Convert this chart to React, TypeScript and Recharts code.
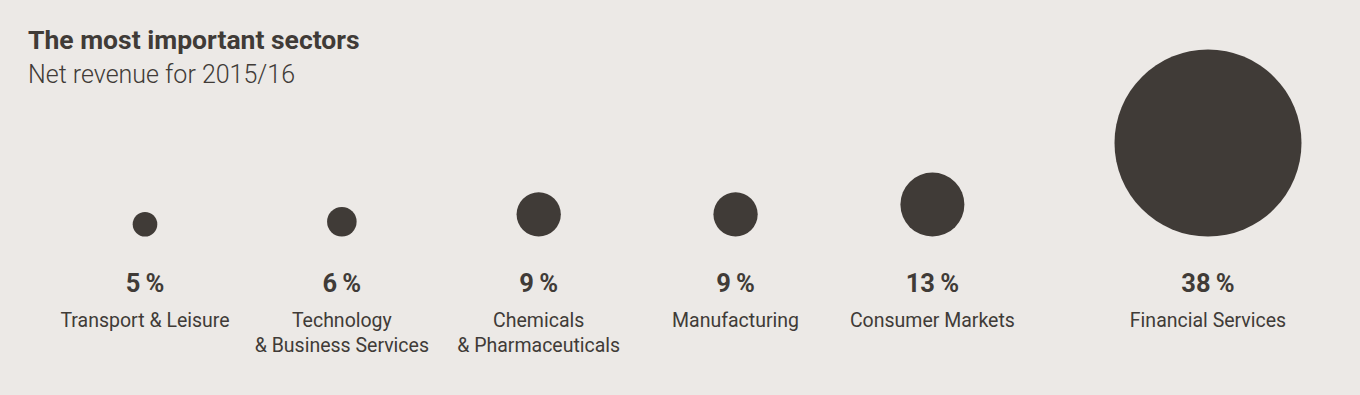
import { ScatterChart, Scatter, XAxis, YAxis, ZAxis } from 'recharts';

const sectors = [
  'Transport & Leisure',
  'Technology\n& Business Services',
  'Chemicals\n& Pharmaceuticals',
  'Manufacturing',
  'Consumer Markets',
  'Financial Services',
];
const shares = [5, 6, 9, 9, 13, 38];

const INK = '#403b37';
const BG = '#ece9e6';
const FONT = 'Roboto, "Open Sans", sans-serif';
// the last column sits a bit further right than the even grid
const LAST_GAP = 0.4;

const chartData = sectors.map((sector, i) => ({
  sector,
  share: shares[i],
  slot: i + (i === sectors.length - 1 ? LAST_GAP : 0),
  base: 0,
}));

function Bubble(props: any) {
  const { cx, cy, size, width, payload } = props;
  const r = typeof size === 'number' ? size : Math.PI * (width / 2) ** 2;
  const lines: string[] = payload.sector.split('\n');
  return (
    <g>
      <circle cx={cx} cy={cy - r} r={r} fill={INK} />
      <text x={cx} y={cy + 55} textAnchor="middle" fontFamily={FONT} fontSize={25.5} fontWeight={700} fill={INK}>
        {`${payload.share}\u2009%`}
      </text>
      {lines.map((line, i) => (
        <text key={i} x={cx} y={cy + 90 + i * 25} textAnchor="middle" fontFamily={FONT} fontSize={19.5} fill={INK}>
          {line}
        </text>
      ))}
    </g>
  );
}

export default function App() {
  return (
    <div style={{ position: 'absolute', left: 0, top: 0, width: 1360, height: 395, background: BG, fontFamily: FONT }}>
      <div style={{ position: 'absolute', left: 28, top: 27, fontSize: 26.5, fontWeight: 700, color: INK, lineHeight: 1 }}>
        The most important sectors
      </div>
      <div style={{ position: 'absolute', left: 28, top: 62, fontSize: 25, fontWeight: 300, color: INK, lineHeight: 1 }}>
        Net revenue for 2015/16
      </div>
      <ScatterChart width={1360} height={395} margin={{ top: 0, right: 152, bottom: 158.5, left: 145 }}>
        <XAxis type="number" dataKey="slot" domain={[0, sectors.length - 1 + LAST_GAP]} hide />
        <YAxis type="number" dataKey="base" domain={[0, 1]} hide />
        <ZAxis type="number" dataKey="share" domain={[0, 38]} range={[0, 93.5]} />
        <Scatter data={chartData} shape={<Bubble />} isAnimationActive={false} />
      </ScatterChart>
    </div>
  );
}
